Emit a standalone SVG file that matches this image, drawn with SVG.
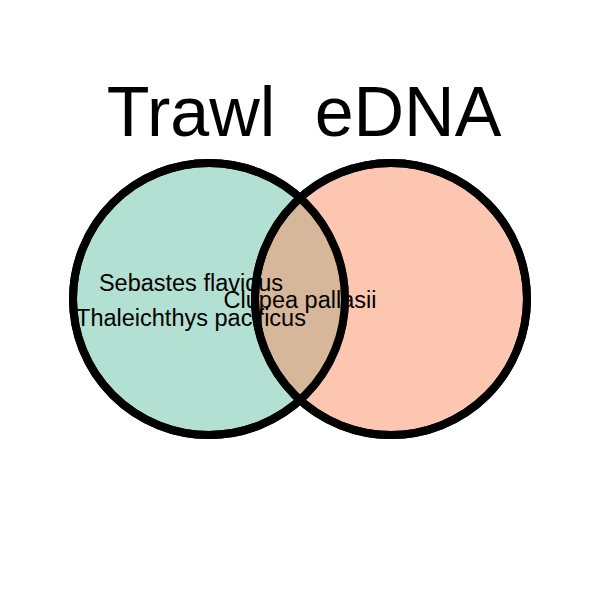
<svg xmlns="http://www.w3.org/2000/svg" width="600" height="600" viewBox="0 0 600 600">
<style>
.set{stroke:#000;stroke-width:8;fill-opacity:0.5}
.title{font-family:"Liberation Sans",Arial,sans-serif;font-size:70px;fill:#000;text-anchor:middle}
.lbl{font-family:"Liberation Sans",Arial,sans-serif;font-size:23.5px;fill:#000;text-anchor:middle}
</style>
<rect width="600" height="600" fill="#fff"/>
<g id="trawl">
<circle cx="209" cy="299" r="136" fill="#66C2A5" class="set" stroke="none"/>
</g>
<g id="edna">
<circle cx="391" cy="299" r="136" fill="#FC8D62" class="set" stroke="none"/>
</g>
<g id="outlines" fill="none" stroke="#000" stroke-width="8">
<circle cx="209" cy="299" r="136"/>
<circle cx="391" cy="299" r="136"/>
</g>
<g id="titles">
<text class="title" x="191" y="136">Trawl</text>
<text class="title" x="408" y="136">eDNA</text>
</g>
<g id="labels">
<text class="lbl" x="191" y="291">Sebastes flavidus</text>
<text class="lbl" x="191" y="326">Thaleichthys pacificus</text>
<text class="lbl" x="300" y="308">Clupea pallasii</text>
</g>
</svg>
